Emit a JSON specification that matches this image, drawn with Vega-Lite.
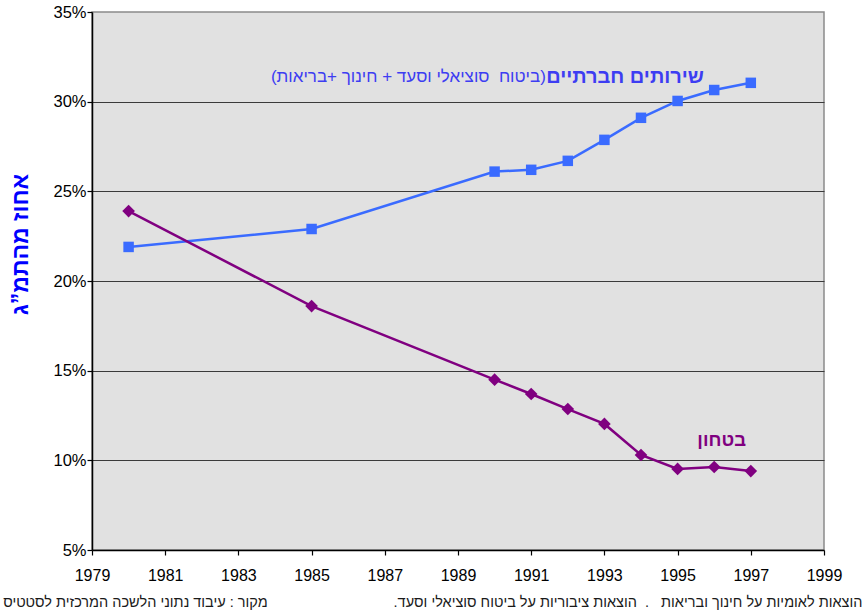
{
  "$schema": "https://vega.github.io/schema/vega-lite/v6.json",
  "autosize": {"type": "none"},
  "width": 732,
  "height": 538,
  "padding": {"left": 92, "top": 12, "right": 43, "bottom": 65},
  "background": "white",
  "config": {
    "font": "Liberation Sans",
    "view": {"fill": "#e1e1e1", "stroke": "#8a8a8a", "strokeWidth": 1.5}
  },
  "datasets": {
    "series": [
      {"year": 1980, "value": 21.9, "series": "social"},
      {"year": 1985, "value": 22.9, "series": "social"},
      {"year": 1990, "value": 26.1, "series": "social"},
      {"year": 1991, "value": 26.2, "series": "social"},
      {"year": 1992, "value": 26.7, "series": "social"},
      {"year": 1993, "value": 27.87, "series": "social"},
      {"year": 1994, "value": 29.1, "series": "social"},
      {"year": 1995, "value": 30.04, "series": "social"},
      {"year": 1996, "value": 30.65, "series": "social"},
      {"year": 1997, "value": 31.05, "series": "social"},
      {"year": 1980, "value": 23.9, "series": "defense"},
      {"year": 1985, "value": 18.6, "series": "defense"},
      {"year": 1990, "value": 14.5, "series": "defense"},
      {"year": 1991, "value": 13.7, "series": "defense"},
      {"year": 1992, "value": 12.86, "series": "defense"},
      {"year": 1993, "value": 12.03, "series": "defense"},
      {"year": 1994, "value": 10.3, "series": "defense"},
      {"year": 1995, "value": 9.52, "series": "defense"},
      {"year": 1996, "value": 9.63, "series": "defense"},
      {"year": 1997, "value": 9.4, "series": "defense"}
    ],
    "labels": [
      {"year": 1995.72, "value": 31.35, "text": "שירותים חברתיים", "kind": "socialBold"},
      {"year": 1991.4, "value": 31.35, "text": "‏(ביטוח\u00a0 סוציאלי וסעד + חינוך +בריאות)‏", "kind": "socialReg"},
      {"year": 1996.87, "value": 11.13, "text": "בטחון", "kind": "defense"},
      {"year": 2000.05, "value": 2.04, "text": "‏הוצאות לאומיות על חינוך ובריאות\u00a0\u00a0 .\u00a0 הוצאות ציבוריות על ביטוח סוציאלי וסעד.‏", "kind": "noteLong"},
      {"year": 1983.8, "value": 2.04, "text": "‏מקור : עיבוד נתוני הלשכה המרכזית לסטטיס‏", "kind": "noteSource"}
    ]
  },
  "layer": [
    {
      "data": {"name": "series"},
      "mark": {"type": "line", "strokeWidth": 2.5},
      "encoding": {
        "x": {
          "field": "year", "type": "quantitative",
          "scale": {"domain": [1979, 1999], "nice": false, "zero": false},
          "axis": {
            "values": [1979, 1981, 1983, 1985, 1987, 1989, 1991, 1993, 1995, 1997, 1999],
            "format": "d", "title": null, "grid": false,
            "labelFlush": false, "labelOverlap": false,
            "domainColor": "#000000", "domainWidth": 1.5,
            "tickColor": "#000000", "tickSize": 5, "tickWidth": 1.2,
            "labelFontSize": 16, "labelColor": "#000000", "labelPadding": 12,
            "labelFont": "Liberation Sans"
          }
        },
        "y": {
          "field": "value", "type": "quantitative",
          "scale": {"domain": [5, 35], "nice": false, "zero": false},
          "axis": {
            "values": [5, 10, 15, 20, 25, 30, 35],
            "labelExpr": "datum.value + '%'",
            "labelFlush": false, "labelOverlap": false,
            "title": "אחוז מהתמ”ג",
            "titleColor": "#0000ff", "titleFontSize": 23, "titleFontWeight": "bold",
            "titleFont": "Liberation Sans",
            "titleX": -72, "titleY": 232, "titleAlign": "center", "titleBaseline": "middle", "titleAngle": -90,
            "grid": true,
            "gridColor": {"condition": {"test": "datum.value === 5 || datum.value === 35", "value": "transparent"}, "value": "#3a3a3a"},
            "gridWidth": 1.2,
            "domainColor": "#000000", "domainWidth": 1.5,
            "tickColor": "#000000", "tickSize": 5, "tickWidth": 1.2,
            "labelFontSize": 16.5, "labelColor": "#000000", "labelPadding": 1,
            "labelFont": "Liberation Sans"
          }
        },
        "color": {
          "field": "series", "type": "nominal",
          "scale": {"domain": ["social", "defense"], "range": ["#3a6bff", "#800080"]},
          "legend": null
        }
      }
    },
    {
      "data": {"name": "series"},
      "mark": {"type": "point", "filled": true, "opacity": 1},
      "encoding": {
        "x": {"field": "year", "type": "quantitative"},
        "y": {"field": "value", "type": "quantitative"},
        "color": {"field": "series", "type": "nominal", "legend": null},
        "shape": {
          "field": "series", "type": "nominal",
          "scale": {"domain": ["social", "defense"], "range": ["square", "diamond"]},
          "legend": null
        },
        "size": {
          "field": "series", "type": "nominal",
          "scale": {"domain": ["social", "defense"], "range": [110, 160]},
          "legend": null
        }
      }
    },
    {
      "data": {"name": "labels"},
      "transform": [{"filter": "datum.kind === 'socialBold'"}],
      "mark": {"type": "text", "align": "right", "baseline": "middle", "fontSize": 20, "fontWeight": "bold", "color": "#3d3df2", "font": "Liberation Sans"},
      "encoding": {
        "x": {"field": "year", "type": "quantitative"},
        "y": {"field": "value", "type": "quantitative"},
        "text": {"field": "text"}
      }
    },
    {
      "data": {"name": "labels"},
      "transform": [{"filter": "datum.kind === 'socialReg'"}],
      "mark": {"type": "text", "align": "right", "baseline": "middle", "fontSize": 17, "color": "#3d3df2", "font": "Liberation Sans"},
      "encoding": {
        "x": {"field": "year", "type": "quantitative"},
        "y": {"field": "value", "type": "quantitative"},
        "text": {"field": "text"}
      }
    },
    {
      "data": {"name": "labels"},
      "transform": [{"filter": "datum.kind === 'defense'"}],
      "mark": {"type": "text", "align": "right", "baseline": "middle", "fontSize": 18.5, "fontWeight": "bold", "color": "#800080", "font": "Liberation Sans"},
      "encoding": {
        "x": {"field": "year", "type": "quantitative"},
        "y": {"field": "value", "type": "quantitative"},
        "text": {"field": "text"}
      }
    },
    {
      "data": {"name": "labels"},
      "transform": [{"filter": "datum.kind === 'noteLong' || datum.kind === 'noteSource'"}],
      "mark": {"type": "text", "align": "right", "baseline": "middle", "fontSize": 14.5, "color": "#1a1a1a", "clip": false, "font": "Liberation Sans"},
      "encoding": {
        "x": {"field": "year", "type": "quantitative"},
        "y": {"field": "value", "type": "quantitative"},
        "text": {"field": "text"}
      }
    }
  ]
}
